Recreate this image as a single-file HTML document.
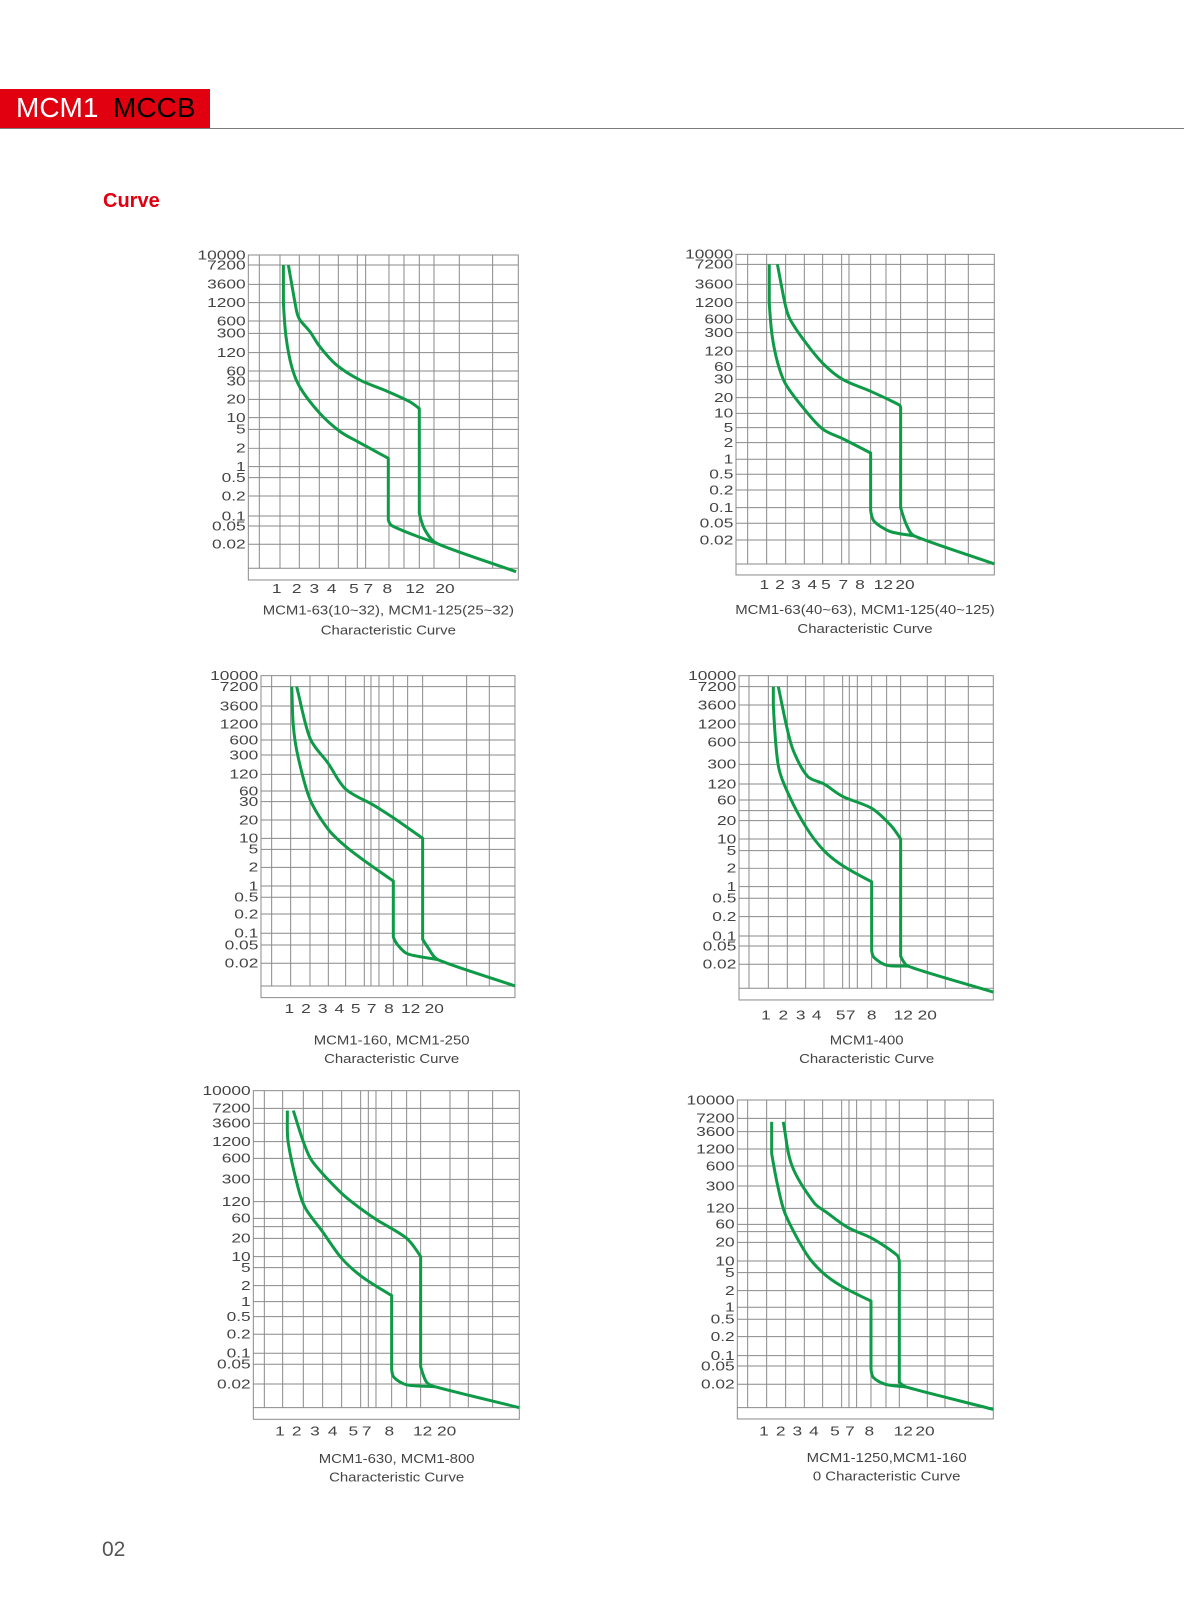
<!DOCTYPE html>
<html><head><meta charset="utf-8">
<style>
html,body{margin:0;padding:0;background:#fff;}
body{width:1190px;height:1615px;position:relative;overflow:hidden;font-family:"Liberation Sans",sans-serif;}
#hdr{position:absolute;left:0;top:89px;width:210px;height:39px;background:#e0000f;}
#hdr span{position:absolute;top:4px;font-size:28px;line-height:30px;}
#rule{position:absolute;left:0;top:128px;width:1184px;height:0;border-top:1.5px solid #7a7a7a;}
#curve{position:absolute;left:103px;top:190px;color:#e0000f;font-weight:bold;font-size:20px;}
#pg{position:absolute;left:102px;top:1538px;color:#555;font-size:21px;}
svg{position:absolute;left:0;top:0;}
</style></head>
<body>
<div id="hdr"><span style="left:16px;color:#fff">MCM1</span><span style="left:113px;color:#000">MCCB</span></div>
<div id="rule"></div>
<div id="curve">Curve</div>
<div id="pg">02</div>
<svg id="main" width="1190" height="1615" xmlns="http://www.w3.org/2000/svg"></svg>
<script>
// ---- data (current multiple x In, trip time in seconds) ----
const xTickLabels = ["1","2","3","4","5","7","8","12","20"];
const yTickValues = [10000,7200,3600,1200,600,300,120,60,30,20,10,5,2,1,0.5,0.2,0.1,0.05,0.02];
const yTickLabels = ["10000","7200","3600","1200","600","300","120","60","30","20","10","5","2","1","0.5","0.2","0.1","0.05","0.02"];

const c1UpperX = [1.35,1.82,2.03,2.48,3.02,3.9,5.56,7.9,10.7,12,12,13.4,16.4,39];
const c1UpperT = [7200,855,620,330,160,75,32,24,18.3,14.1,0.11,0.041,0.021,0.0041];
const c1LowerX = [1.13,1.13,1.24,1.52,2.03,3.02,4.08,5.56,7.97,7.97,8.3,11.2,16.4];
const c1LowerT = [7200,1230,257,71,26,11.8,4.5,2.6,1.37,0.076,0.052,0.032,0.021];

const c2UpperX = [1.48,1.97,2.2,3.0,4,5.2,8,11.8,12,12,12.8,13.9,40];
const c2UpperT = [7200,1100,600,200,70,30,23,14.5,13,0.1,0.045,0.025,0.005];
const c2LowerX = [1.1,1.1,1.22,1.5,2.0,3.0,4.0,5.4,8,8,8.4,10.5,13.9];
const c2LowerT = [7200,1200,260,70,27,12,4.6,2.5,1.3,0.09,0.055,0.032,0.025];

const c3UpperX = [1.24,2,3,4,6.1,8,12,12,12.8,14.6,40];
const c3UpperT = [7200,650,200,65,28,21,10,0.07,0.045,0.024,0.005];
const c3LowerX = [1.04,1.1,1.3,2,3,4,5,8,8,8.5,10,14.6];
const c3LowerT = [7200,1100,280,35,14,6,2.8,1.2,0.08,0.052,0.032,0.024];

const c4UpperX = [1.44,1.95,2.3,3.1,4,5,8,10.5,12,12,13,40];
const c4UpperT = [7200,1100,450,170,120,70,35,17,10,0.03,0.018,0.004];
const c4LowerX = [1.2,1.2,1.44,2.1,3.05,4,5,8,8,8.3,10,13];
const c4LowerT = [7200,3600,280,70,15,5,2.3,1.2,0.04,0.028,0.019,0.018];

const c5UpperX = [1.43,2,2.4,3.9,4.8,7,10,12,12,12.7,13.8,40];
const c5UpperT = [6500,1200,550,180,100,55,20,10,0.045,0.022,0.017,0.005];
const c5LowerX = [1.17,1.2,1.7,2.1,3,4,5.1,8,8,8.3,10,13.8];
const c5LowerT = [6500,1200,200,90,25,9,3.2,1.3,0.04,0.027,0.019,0.017];

const c6UpperX = [1.83,2.3,3.5,4.2,5.7,8.2,11.6,12,12,12.9,40];
const c6UpperT = [6000,600,150,100,45,23,12.5,10,0.022,0.017,0.0045];
const c6LowerX = [1.2,1.2,1.5,2,3.1,4,5,8,8,8.3,9.9,12.9];
const c6LowerT = [6000,1000,300,90,13,5,2.5,1.3,0.045,0.028,0.02,0.017];

// ---- layout (zoom units: px = origin + z/3) ----
const xAnchorVals = [1,2,3,4,5,7,8,10,12,16,20,40];
const yAnchorVals = [10000,7200,3600,1200,600,300,120,60,30,20,10,5,2,1,0.5,0.2,0.1,0.05,0.02,0.005];
const charts = [
 {id:"c1",ox:180,oy:240,box:[205,1015,45,1020],
  vl:[238,300,358,418,475,532,557,627,672,718,762,838,938],
  xa:[300,358,418,475,532,557,627,672,718,762,838,1015],
  ya:[45,75,133,188,243,280,338,393,423,478,533,568,625,680,713,768,828,858,913,985],
  xl:[290,350,403,455,522,565,622,705,795],xly:1045,noLbl:[],
  cap:["MCM1-63(10~32), MCM1-125(25~32)","Characteristic Curve"],capx:625,capy:[1110,1170],
  ux:c1UpperX,ut:c1UpperT,lx:c1LowerX,lt:c1LowerT},
 {id:"c2",ox:670,oy:240,box:[198,973,43,1005],
  vl:[233,290,347,403,458,515,537,602,648,692,772,826,895],
  xa:[290,347,403,458,515,537,602,648,692,772,826,973],
  ya:[43,73,133,188,238,278,333,380,418,473,520,563,608,658,703,750,803,850,900,972],
  xl:[283,330,378,427,468,520,570,640,705],xly:1033,noLbl:[],
  cap:["MCM1-63(40~63), MCM1-125(40~125)","Characteristic Curve"],capx:585,capy:[1108,1165],
  ux:c2UpperX,ut:c2UpperT,lx:c2LowerX,lt:c2LowerT},
 {id:"c3",ox:200,oy:660,box:[183,945,47,1013],
  vl:[215,272,330,385,437,493,513,537,580,623,668,800,868],
  xa:[272,330,385,437,493,537,580,623,668,735,800,945],
  ya:[47,80,138,192,240,285,343,393,425,480,535,568,622,678,712,762,820,855,910,978],
  xl:[268,318,368,418,467,515,567,632,703],xly:1045,noLbl:[],
  cap:["MCM1-160, MCM1-250","Characteristic Curve"],capx:575,capy:[1140,1195],
  ux:c3UpperX,ut:c3UpperT,lx:c3LowerX,lt:c3LowerT},
 {id:"c4",ox:670,oy:660,box:[207,970,47,1020],
  vl:[237,295,352,407,462,518,538,562,605,650,692,772,826,895],
  xa:[295,352,407,462,518,562,605,650,692,772,826,970],
  ya:[47,80,135,192,247,313,372,420,452,482,537,572,625,680,715,770,828,858,913,985],
  xl:[288,340,392,440,512,542,605,700,772],xly:1065,noLbl:[30],
  cap:["MCM1-400","Characteristic Curve"],capx:590,capy:[1140,1195],
  ux:c4UpperX,ut:c4UpperT,lx:c4LowerX,lt:c4LowerT},
 {id:"c5",ox:200,oy:1075,box:[160,958,47,1033],
  vl:[193,248,310,368,425,482,505,528,575,620,662,750,805,878],
  xa:[248,310,368,425,482,528,575,620,662,750,805,958],
  ya:[47,100,145,200,250,313,380,430,455,490,545,578,632,680,725,778,835,868,927,998],
  xl:[240,290,345,398,460,500,568,668,740],xly:1067,noLbl:[30],
  cap:["MCM1-630, MCM1-800","Characteristic Curve"],capx:590,capy:[1150,1205],
  ux:c5UpperX,ut:c5UpperT,lx:c5LowerX,lt:c5LowerT},
 {id:"c6",ox:670,oy:1085,box:[202,970,45,1002],
  vl:[233,290,347,403,458,515,537,560,603,648,688,772,825,895],
  xa:[290,347,403,458,515,560,603,648,688,772,825,970],
  ya:[45,100,140,192,243,303,370,418,440,472,528,563,617,667,703,755,812,843,898,968],
  xl:[282,332,382,432,495,540,598,700,765],xly:1038,noLbl:[30],
  cap:["MCM1-1250,MCM1-160","0 Characteristic Curve"],capx:650,capy:[1117,1172],
  ux:c6UpperX,ut:c6UpperT,lx:c6LowerX,lt:c6LowerT}
];

const NS="http://www.w3.org/2000/svg";
const svg=document.getElementById("main");
function mk(tag,attrs,parent){const e=document.createElementNS(NS,tag);for(const k in attrs)e.setAttribute(k,attrs[k]);parent.appendChild(e);return e;}
function interp(v,vals,pos){
  const lv=Math.log10(v);const L=vals.map(Math.log10);
  let i=0;
  const asc=L[L.length-1]>L[0];
  for(i=0;i<L.length-2;i++){ if(asc? lv<=L[i+1] : lv>=L[i+1]) break; }
  const f=(lv-L[i])/(L[i+1]-L[i]);
  return pos[i]+f*(pos[i+1]-pos[i]);
}
function isVert(a,b){return Math.abs(a[0]-b[0])<0.01;}
function clampVec(v,maxLen){const m=Math.hypot(v[0],v[1]);if(m>maxLen&&m>0){return [v[0]*maxLen/m,v[1]*maxLen/m];}return v;}
function smoothPath(p){
  const n=p.length, t=1/6;
  const tan=p.map((pt,i)=>{
    const a=p[i-1], b=p[i+1];
    if(!a) return [(b[0]-pt[0])*t*2,(b[1]-pt[1])*t*2];
    if(!b) return [(pt[0]-a[0])*t*2,(pt[1]-a[1])*t*2];
    return [(b[0]-a[0])*t,(b[1]-a[1])*t];
  });
  let d="M"+p[0][0].toFixed(1)+","+p[0][1].toFixed(1);
  for(let i=0;i<n-1;i++){
    const p1=p[i],p2=p[i+1];
    if(isVert(p1,p2)){d+=" L"+p2[0].toFixed(1)+","+p2[1].toFixed(1);continue;}
    const seg=Math.hypot(p2[0]-p1[0],p2[1]-p1[1])/3;
    const prevV=i>0&&isVert(p[i-1],p1), nextV=i+2<n&&isVert(p2,p[i+2]);
    let t1=prevV?[0,0]:clampVec(tan[i],seg), t2=nextV?[0,0]:clampVec(tan[i+1],seg);
    const c1=[p1[0]+t1[0],p1[1]+t1[1]], c2=[p2[0]-t2[0],p2[1]-t2[1]];
    d+=" C"+c1.map(v=>v.toFixed(1)).join(",")+" "+c2.map(v=>v.toFixed(1)).join(",")+" "+p2[0].toFixed(1)+","+p2[1].toFixed(1);
  }
  return d;
}
charts.forEach((c,ci)=>{
  const g=mk("g",{transform:"translate("+c.ox+","+c.oy+") scale(0.3333)"},svg);
  
  
  const [l,r,t,b]=c.box;
  const xs=v=>interp(v,xAnchorVals,c.xa);
  const ys=v=>interp(v,yAnchorVals,c.ya);
  const grid=mk("g",{stroke:"#8a8a8a","stroke-width":3,fill:"none"},g);
  
  
  c.vl.forEach(x=>{mk("line",{x1:x,x2:x,y1:t,y2:c.ya[c.ya.length-1]},grid);});
  c.ya.slice(1).forEach(y=>{mk("line",{x1:l,x2:r,y1:y,y2:y},grid);});
  const frame=mk("rect",{x:l,y:t,width:r-l,height:b-t,stroke:"#8a8a8a","stroke-width":3,fill:"none"},g);
  
  
  yTickValues.forEach((v,i)=>{
    if(c.noLbl.indexOf(v)>=0) return;
    const y=ys(v);
    const tg=mk("g",{transform:"translate("+(l-8)+","+(y+13)+") scale(1.3,1)"},g);
    const tx=mk("text",{x:0,y:0,"text-anchor":"end","font-size":40,fill:"#444","font-family":"Liberation Sans, sans-serif"},tg);
    tx.textContent=yTickLabels[i];
    
    
  });
  xTickLabels.forEach((s,i)=>{
    const tg=mk("g",{transform:"translate("+c.xl[i]+","+(c.xly+14)+") scale(1.3,1)"},g);
    const tx=mk("text",{x:0,y:0,"text-anchor":"middle","font-size":40,fill:"#444","font-family":"Liberation Sans, sans-serif"},tg);
    tx.textContent=s;
    
    
  });
  c.cap.forEach((s,i)=>{
    const tg=mk("g",{transform:"translate("+c.capx+","+(c.capy[i]+14)+") scale(1.12,1)"},g);
    const tx=mk("text",{x:0,y:0,"text-anchor":"middle","font-size":40,fill:"#444","font-family":"Liberation Sans, sans-serif"},tg);
    tx.textContent=s;
    
    
  });
  [[c.ux,c.ut,'upper-trip-curve'],[c.lx,c.lt,'lower-trip-curve']].forEach(([X,T,nm])=>{
    const pts=X.map((x,i)=>[xs(x),ys(T[i])]);
    const p=mk("path",{d:smoothPath(pts),stroke:"#0f9a48","stroke-width":9,fill:"none","stroke-linejoin":"round","stroke-linecap":"butt"},g);
    
    
  });
});
</script>
</body></html>
